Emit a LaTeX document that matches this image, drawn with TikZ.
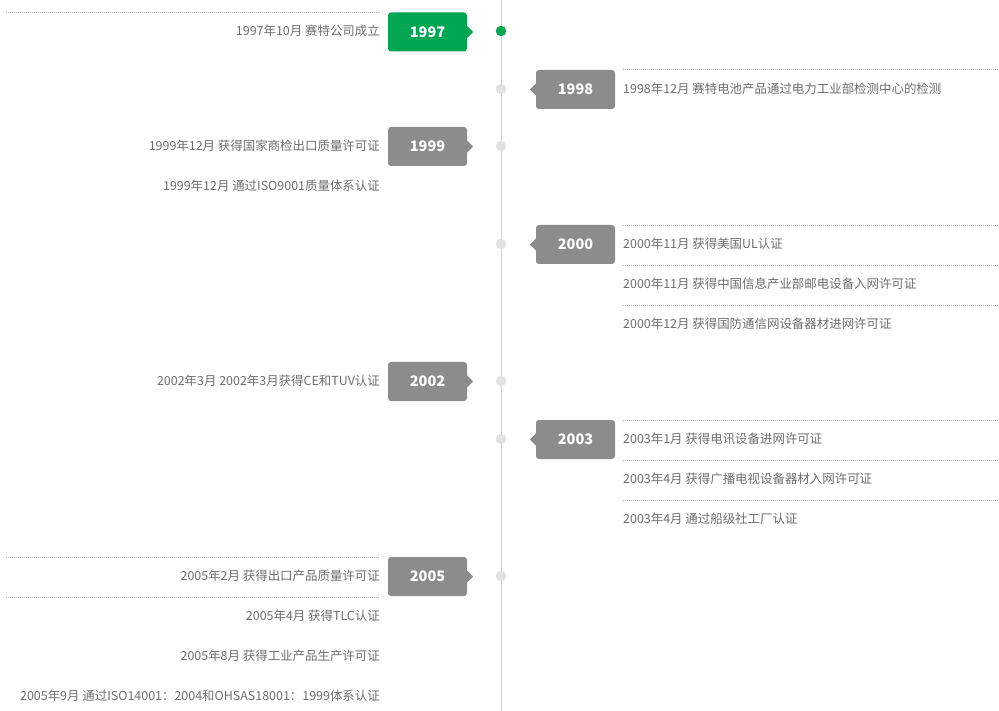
\documentclass[tikz,border=0pt]{standalone}
\usepackage{fontspec}
\setmainfont{Noto Sans CJK SC}
\definecolor{txt}{HTML}{6E6E6E}
\definecolor{boxgray}{HTML}{8C8C8C}
\definecolor{boxgreen}{HTML}{00A651}
\definecolor{dotgray}{HTML}{E2E2E2}
\definecolor{linegray}{HTML}{D2D2D2}
\definecolor{dotc}{HTML}{A8A8A8}
\begin{document}
\begin{tikzpicture}[x=1pt,y=-1pt,
  item/.style={text=txt, font=\fontsize{12.45}{14}\selectfont, inner sep=0pt},
  litem/.style={item, anchor=east},
  ritem/.style={item, anchor=west},
  yearbox/.style={minimum width=79pt, minimum height=39pt, rounded corners=3pt, text=white, font=\fontsize{14.5}{16}\selectfont\bfseries, inner sep=0pt},
  dotline/.style={draw=dotc, dash pattern=on 1pt off 1pt, line width=0.7pt},
  tdot/.style={circle, fill=dotgray, minimum size=10.5pt, inner sep=0pt}]
\fill[white] (0,0) rectangle (999,711);
\useasboundingbox (0,0) rectangle (999,711);
% timeline
\coordinate (ttop) at (501,0);
\coordinate (tbot) at (501,711);
\draw[linegray, line width=1pt] (ttop) -- (tbot);
% dots
\node[tdot, fill=boxgreen] (d1997) at (501,31) {};
\node[tdot] (d1998) at (501,89) {};
\node[tdot] (d1999) at (501,146) {};
\node[tdot] (d2000) at (501,244) {};
\node[tdot] (d2002) at (501,381) {};
\node[tdot] (d2003) at (501,439) {};
\node[tdot] (d2005) at (501,576) {};
% left year boxes
\foreach \yr/\yy/\col in {1997/32/boxgreen,1999/146.5/boxgray,2002/381.5/boxgray,2005/576.5/boxgray}{
  \node[yearbox, fill=\col] (b\yr) at (427.5,\yy) {\yr};
  \fill[\col] (b\yr.east) ++(0,-6) -- ++(6,6) -- ++(-6,6) -- cycle;
}
% right year boxes
\foreach \yr/\yy in {1998/89.5,2000/244.5,2003/439.5}{
  \node[yearbox, fill=boxgray] (b\yr) at (575.5,\yy) {\yr};
  \fill[boxgray] (b\yr.west) ++(0,-6) -- ++(-6,6) -- ++(6,6) -- cycle;
}
% left dotted lines
\coordinate (l1a) at (6,12);  \coordinate (l1b) at (380,12);
\coordinate (l2a) at (6,557); \coordinate (l2b) at (380,557);
\coordinate (l3a) at (6,597); \coordinate (l3b) at (380,597);
\draw[dotline] (l1a) -- (l1b);
\draw[dotline] (l2a) -- (l2b);
\draw[dotline] (l3a) -- (l3b);
% right dotted lines
\foreach \yy [count=\i] in {69,225,265,305,420,460,500}{
  \coordinate (r\i a) at (623,\yy); \coordinate (r\i b) at (999,\yy);
  \draw[dotline] (r\i a) -- (r\i b);
}
% left texts
\node[litem] (t1) at (380,31) {1997年10月 赛特公司成立};
\node[litem] (t2) at (380,146) {1999年12月 获得国家商检出口质量许可证};
\node[litem] (t3) at (380,186) {1999年12月 通过ISO9001质量体系认证};
\node[litem] (t4) at (380,381) {2002年3月 2002年3月获得CE和TUV认证};
\node[litem] (t5) at (380,576) {2005年2月 获得出口产品质量许可证};
\node[litem] (t6) at (380,616) {2005年4月 获得TLC认证};
\node[litem] (t7) at (380,656) {2005年8月 获得工业产品生产许可证};
\node[litem] (t8) at (380,696) {2005年9月 通过ISO14001：2004和OHSAS18001：1999体系认证};
% right texts
\node[ritem] (s1) at (623,89) {1998年12月 赛特电池产品通过电力工业部检测中心的检测};
\node[ritem] (s2) at (623,244) {2000年11月 获得美国UL认证};
\node[ritem] (s3) at (623,284) {2000年11月 获得中国信息产业部邮电设备入网许可证};
\node[ritem] (s4) at (623,324) {2000年12月 获得国防通信网设备器材进网许可证};
\node[ritem] (s5) at (623,439) {2003年1月 获得电讯设备进网许可证};
\node[ritem] (s6) at (623,479) {2003年4月 获得广播电视设备器材入网许可证};
\node[ritem] (s7) at (623,519) {2003年4月 通过船级社工厂认证};
\end{tikzpicture}
\end{document}
